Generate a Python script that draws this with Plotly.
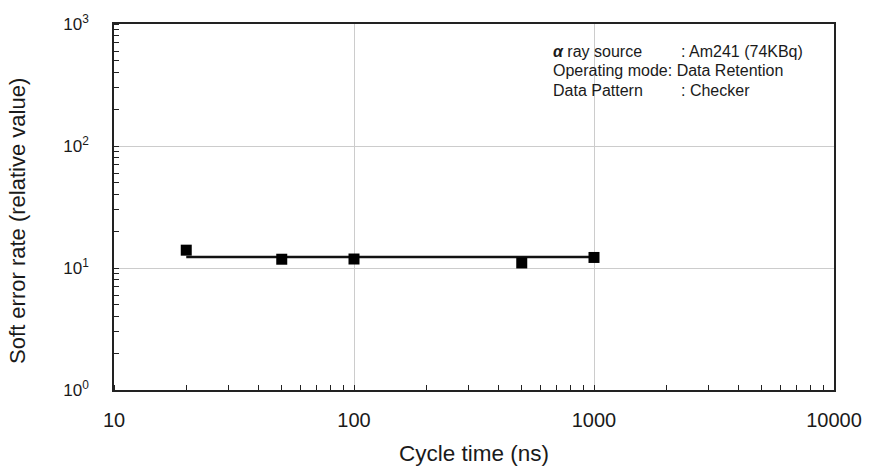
import plotly.graph_objects as go

# Data
cycle_time = [20, 50, 100, 500, 1000]
soft_error = [14.0, 11.8, 11.85, 11.0, 12.2]
fit_x = [20, 1000]
fit_y = [12.3, 12.3]

xtick_vals = [10, 100, 1000, 10000]
xtick_text = ["10", "100", "1000", "10000"]
ytick_vals = [1, 10, 100, 1000]
ytick_text = ["10<sup>0</sup>", "10<sup>1</sup>", "10<sup>2</sup>", "10<sup>3</sup>"]

y_title = "Soft error rate (relative value)"
x_title = "Cycle time (ns)"
info_left = ["<b><i>α</i></b> ray source", "Operating mode: Data Retention", "Data Pattern"]
info_right = [": Am241 (74KBq)", "", ": Checker"]

FONT = "Liberation Sans, Arial, sans-serif"
TXT = "#1a1a1a"

fig = go.Figure()
fig.add_trace(go.Scatter(x=fit_x, y=fit_y, mode="lines",
                         line=dict(color="#111111", width=2.5), showlegend=False))
fig.add_trace(go.Scatter(x=cycle_time, y=soft_error, mode="markers",
                         marker=dict(symbol="square", size=11, color="#000000"),
                         showlegend=False))

fig.update_layout(
    width=874, height=474,
    margin=dict(l=114, r=38, t=18, b=80),
    paper_bgcolor="white", plot_bgcolor="white",
    font=dict(family=FONT, color=TXT),
    showlegend=False,
)

fig.update_xaxes(
    type="log", range=[1, 4],
    tickvals=xtick_vals, ticktext=xtick_text,
    tickfont=dict(size=20, color=TXT),
    ticks="", showgrid=True, gridcolor="#cccccc", gridwidth=1,
    showline=True, linecolor="#222222", linewidth=1.5, mirror=True,
    minor=dict(ticks="inside", ticklen=5, tickcolor="#222222", dtick="D1", showgrid=False),
    ticklabelstandoff=11,
    title=dict(text=x_title, font=dict(size=22.5, color=TXT), standoff=15),
    zeroline=False,
)
fig.update_yaxes(
    type="log", range=[0, 3],
    tickvals=ytick_vals, ticktext=ytick_text,
    tickfont=dict(size=17, color=TXT),
    ticks="", showgrid=True, gridcolor="#cccccc", gridwidth=1,
    showline=True, linecolor="#222222", linewidth=1.5, mirror=True,
    minor=dict(ticks="inside", ticklen=5, tickcolor="#222222", dtick="D1", showgrid=False),
    ticklabelstandoff=20,
    zeroline=False,
)

fig.add_annotation(xref="paper", yref="paper", x=(17 - 114) / 722, y=(394 - 220) / 376,
                   xanchor="center", yanchor="middle", textangle=-90, showarrow=False,
                   text=y_title, font=dict(size=22, color=TXT, family=FONT))

line_centers_px = [46, 66, 86]
for i, (lt, rt) in enumerate(zip(info_left, info_right)):
    yp = (394 - line_centers_px[i]) / 376
    fig.add_annotation(xref="paper", yref="paper", x=(552 - 114) / 722, y=yp,
                       xanchor="left", yanchor="middle", align="left", showarrow=False,
                       text=lt, font=dict(size=16, color=TXT, family=FONT))
    if rt:
        fig.add_annotation(xref="paper", yref="paper", x=(681 - 114) / 722, y=yp,
                           xanchor="left", yanchor="middle", align="left", showarrow=False,
                           text=rt, font=dict(size=16, color=TXT, family=FONT))

fig.write_html("out.html")
